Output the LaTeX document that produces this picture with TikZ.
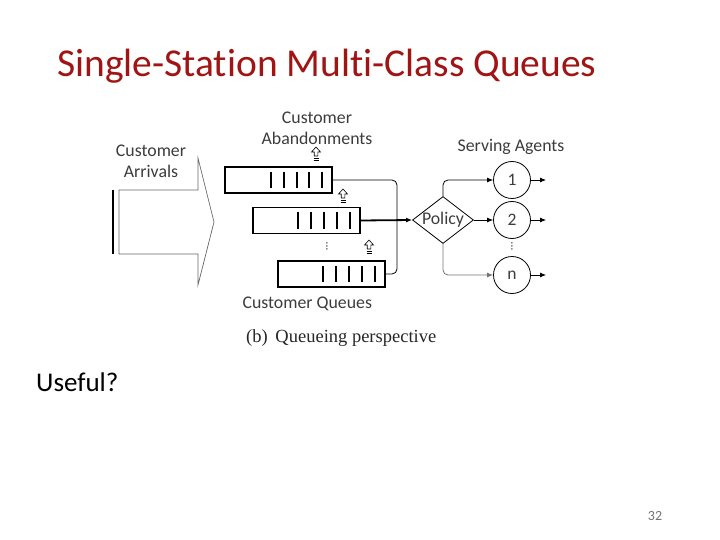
\documentclass[tikz,border=0pt]{standalone}
\usepackage{fontspec}
\setmainfont{Carlito}[Ligatures=NoCommon]
\newfontfamily\serif{Liberation Serif}
\usetikzlibrary{arrows.meta,shapes.geometric}
\definecolor{titlered}{RGB}{160,20,20}
\definecolor{txtgray}{RGB}{60,60,60}
\tikzset{
  qbox/.style={draw,line width=1.8pt,minimum width=107pt,minimum height=26pt,inner sep=0pt},
  bar/.style={line width=1.6pt},
  lbl/.style={font=\fontsize{17.8}{21}\selectfont,text=txtgray,align=center},
  agent/.style={draw,circle,line width=0.8pt,minimum size=37pt,inner sep=0pt,font=\fontsize{17.5}{19}\selectfont,text=txtgray},
  conn/.style={line width=0.8pt,-{Latex[length=6pt,width=5pt]},rounded corners=5pt},
  aband/.style={line width=0.6pt}
}
\newcommand{\abandarrow}[2]{%
  \draw[aband] (#1-1.8,#2) -- (#1-1.8,#2-4) -- (#1-4.5,#2-4) -- (#1,#2-9) -- (#1+4.5,#2-4) -- (#1+1.8,#2-4) -- (#1+1.8,#2) -- cycle;
  \draw[line width=0.7pt] (#1-2.5,#2+2.2) -- (#1+2.5,#2+2.2);
  \draw[line width=0.7pt] (#1-2.5,#2+4.6) -- (#1+2.5,#2+4.6);
}
\begin{document}
\begin{tikzpicture}[x=1pt,y=-1pt]
\useasboundingbox (0,0) rectangle (720,540);
% title
\node[anchor=base west,inner sep=0pt,text=titlered,font=\fontsize{39.5}{44}\selectfont] (title) at (57,77) {Single-Station Multi-Class Queues};
% arrivals
\node[lbl] (arr) at (151,161) {Customer\\Arrivals};
\draw[line width=0.7pt,draw=black!60] (119,190) -- (198,190) -- (198,158) -- (214,222) -- (198,285) -- (198,254) -- (119,254) -- cycle;
\draw[line width=2.5pt] (113,190) -- (113,254);
% queues
\node[qbox] (q1) at (278.5,180) {};
\node[qbox] (q2) at (306.5,220.5) {};
\node[qbox] (q3) at (331.5,274) {};
\foreach \x in {271,284,297,309,322} \draw[bar] (\x,172) -- (\x,188);
\foreach \x in {298,311,324,337,350} \draw[bar] (\x,212) -- (\x,229);
\foreach \x in {323,336,349,362,375} \draw[bar] (\x,266) -- (\x,282);
\node[text=txtgray,font=\fontsize{12}{12}\selectfont,rotate=90] (vd1) at (327,246) {\dots};
% abandonment arrows
\abandarrow{316}{156}
\abandarrow{343}{198}
\abandarrow{369}{249}
\node[lbl] (aband) at (317,128) {Customer\\Abandonments};
\node[lbl,anchor=west] (cq) at (239,304) {Customer Queues};
% policy
\node[draw,diamond,aspect=1.3,line width=0.8pt,minimum width=61pt,minimum height=47pt,inner sep=0pt] (pol) at (443,220) {};
\node[font=\fontsize{17.8}{19}\selectfont,text=txtgray,inner sep=0pt] (poltxt) at (pol.center) {Policy};
\draw[line width=0.8pt,rounded corners=5pt] (q1.east) -- (397,180) -- (397,220);
\draw[line width=0.8pt,rounded corners=5pt] (q3.east) -- (397,274) -- (397,220);
\draw[line width=1.8pt,-{Latex[length=6pt,width=5pt]}] (q2.east) -- (pol.west);
% agents
\node[agent] (a1) at (512,180) {1};
\node[agent] (a2) at (512,220) {2};
\node[agent] (an) at (512,275) {n};
\node[text=txtgray,font=\fontsize{12}{12}\selectfont,rotate=90] (vd2) at (512,246) {\dots};
\node[lbl] (sa) at (511,147) {Serving Agents};
\draw[conn] (pol.north) |- (a1.west);
\draw[conn] (pol.east) -- (a2.west);
\draw[conn,draw=black!55] (pol.south) |- (an.west);
\coordinate (o1) at (546,180);
\coordinate (o2) at (546,220);
\coordinate (on) at (546,275);
\draw[conn] (a1.east) -- (o1);
\draw[conn] (a2.east) -- (o2);
\draw[conn] (an.east) -- (on);
% caption
\node[anchor=base west,inner sep=0pt,font=\serif\fontsize{18.5}{22}\selectfont,text=black!85] (cap) at (246,342) {(b)\, Queueing perspective};
\node[anchor=base west,inner sep=0pt,font=\fontsize{27}{30}\selectfont] (useful) at (36,391) {Useful?};
\node[anchor=base,inner sep=0pt,font=\fontsize{14}{16}\selectfont,text=black!55] (pg) at (655,520) {32};
\end{tikzpicture}
\end{document}
